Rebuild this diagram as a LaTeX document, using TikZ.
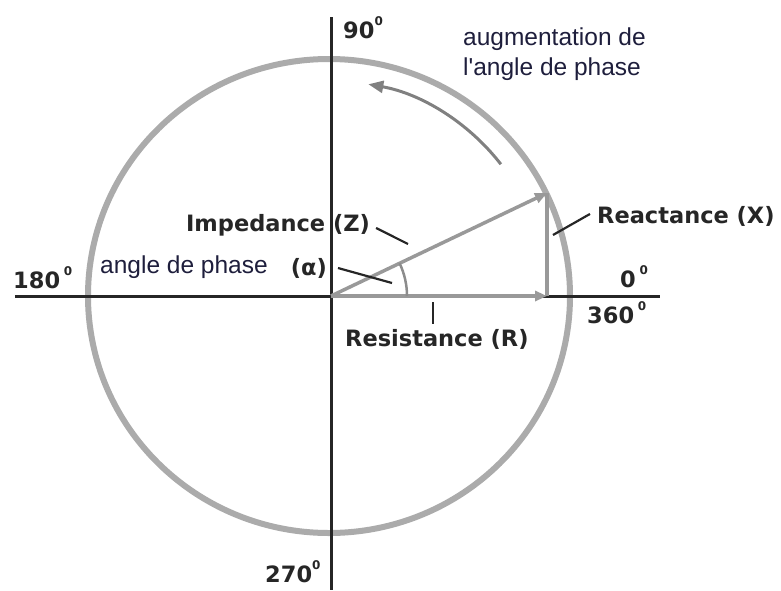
\documentclass[tikz,border=0pt]{standalone}
\usepackage{fontspec}
\setmainfont{Liberation Sans}
\newfontfamily\verd{DejaVu Sans}
\usetikzlibrary{arrows.meta,positioning}
\definecolor{cercle}{HTML}{ABABAB}
\definecolor{vecteur}{HTML}{999999}
\definecolor{encre}{HTML}{1E1E3C}
\newcommand{\dg}{\raisebox{0.55em}{\fontsize{12}{12}\selectfont 0}}

\begin{document}
\begin{tikzpicture}[x=1pt,y=1pt,>={Triangle[length=12pt,width=10pt]}]
  \tikzstyle{lab}=[font=\verd\bfseries\fontsize{22.5}{26}\selectfont,text=black!85,inner sep=0pt]
  \tikzstyle{txt}=[font=\fontsize{24.5}{30}\selectfont,text=encre,inner sep=0pt,align=left]
  \tikzstyle{axe}=[line width=3pt,black!85]
  \tikzstyle{vec}=[line width=3.5pt,vecteur]
  \tikzstyle{lead}=[line width=2.2pt,black!85]
  \useasboundingbox (-331,-294) rectangle (450,296);
  % cercle et axes
  \coordinate (O) at (0,0);
  \draw[line width=6pt,cercle] (-2,0) ellipse (241 and 237);
  \draw[axe] (-316,0) -- (329,0);
  \draw[axe] (0,279) -- (0,-294);
  % vecteurs R, X et Z
  \coordinate (R) at (216,0);
  \coordinate (Z) at (216,103);
  \draw[vec] (R) -- (Z);
  \draw[vec,->] (O) -- (R);
  \draw[vec,->] (O) -- (Z);
  \draw[line width=2.5pt,black!45] (76,0) arc (0:25.5:76);
  \draw[line width=3pt,black!50,-{Triangle[length=15pt,width=12pt]}] (37.8:215) arc (37.8:80:215);
  % graduations
  \node[lab,anchor=base west] (n90) at (12,258) {90\dg};
  \node[lab,anchor=base west] (n180) at (-318,8) {180\,\dg};
  \node[lab,anchor=base west] (n270) at (-66,-286) {270\dg};
  \node[lab,anchor=base west] (n0) at (289,9) {0\,\dg};
  \node[lab,anchor=base west] (n360) at (256,-27) {360\,\dg};
  % libelles
  \node[txt,anchor=north west] (aug) at (132,268) {augmentation de\\l\textquotesingle angle de phase};
  \node[txt,anchor=base west] (angle) at (-231,23) {angle de phase};
  \node[lab] (imp) at (-53,71) {Impedance (Z)};
  \node[lab,anchor=east] (alpha) at (-4,28) {(α)};
  \node[lab,anchor=base west] (reac) at (266,73) {Reactance (X)};
  \node[lab,anchor=base west] (res) at (14,-50) {Resistance (R)};
  % traits de rappel
  \coordinate (zl) at (77,52);
  \coordinate (al) at (61,13);
  \coordinate (xl) at (222,61);
  \coordinate (rl) at (102,-6);
  \draw[lead] (imp.east) ++(6,-3) -- (zl);
  \draw[lead] (alpha.east) ++(11,0) -- (al);
  \draw[lead] (reac.west) ++(-7,2) -- (xl);
  \draw[lead] (rl) -- ++(0,-22);
\end{tikzpicture}
\end{document}
